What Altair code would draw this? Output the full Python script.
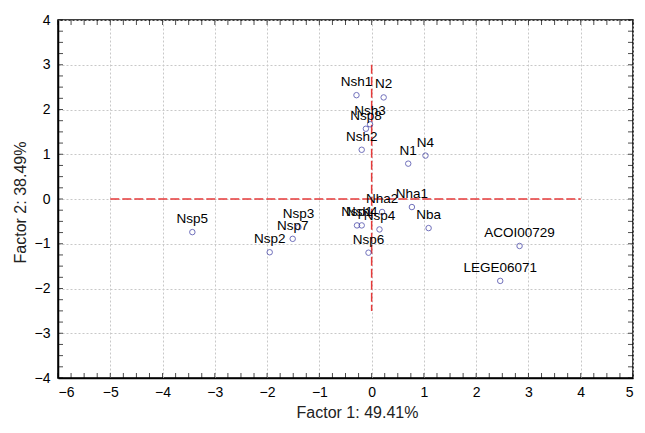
import altair as alt
import pandas as pd

# ---- data ----
labels = ["Nsh1", "N2", "Nsh3", "Nsp8", "Nsh2", "N1", "N4", "Nha1", "Nha2", "Nba",
          "Nsp4", "Nsp1", "Nsh4", "Nsp6", "Nsp5", "Nsp3", "Nsp7", "Nsp2",
          "ACOI00729", "LEGE06071"]
factor1 = [-0.29, 0.23, -0.03, -0.11, -0.19, 0.70, 1.03, 0.77, 0.20, 1.09,
           0.15, -0.28, -0.19, -0.06, -3.43, -1.40, -1.51, -1.95,
           2.83, 2.46]
factor2 = [2.32, 2.27, 1.67, 1.57, 1.10, 0.79, 0.97, -0.18, -0.29, -0.65,
           -0.68, -0.59, -0.59, -1.20, -0.74, -0.63, -0.89, -1.19,
           -1.05, -1.83]

x_ticks = [-6, -5, -4, -3, -2, -1, 0, 1, 2, 3, 4, 5]
y_ticks = [-4, -3, -2, -1, 0, 1, 2, 3, 4]
x_minor = [v / 4 for v in range(-24, 21)]
y_minor = [v / 4 for v in range(-16, 17)]

# reference lines (centre cross)
h_line = pd.DataFrame({"x": [-5], "x2": [4], "y": [0]})
v_line = pd.DataFrame({"x": [0], "y": [3], "y2": [-2.5]})

df = pd.DataFrame({"label": labels, "f1": factor1, "f2": factor2})

FONT = "Liberation Sans"
W, H = 575, 358
xs = alt.Scale(domain=[-6, 5], nice=False, zero=False)
ys = alt.Scale(domain=[-4, 4], nice=False, zero=False)

x_axis = alt.Axis(values=x_ticks, title="Factor 1: 49.41%", labelPadding=7, titlePadding=5,
                  titleX=299, titleAlign="center")
y_axis = alt.Axis(values=y_ticks, title="Factor 2: 38.49%", labelPadding=8, titlePadding=6,
                  titleY=182)

base = alt.Chart(df)

points = base.mark_point(shape="circle", filled=False, color="#3535a0", size=30, strokeWidth=1).encode(
    x=alt.X("f1:Q", scale=xs, axis=x_axis),
    y=alt.Y("f2:Q", scale=ys, axis=y_axis),
)

texts = base.mark_text(dy=-13, font=FONT, fontSize=13.5, color="black", align="center", baseline="middle").encode(
    x=alt.X("f1:Q", scale=xs),
    y=alt.Y("f2:Q", scale=ys),
    text="label:N",
)

red = "#e63a3a"
hl = alt.Chart(h_line).mark_rule(color=red, strokeWidth=1.5, strokeDash=[9, 3]).encode(
    x=alt.X("x:Q", scale=xs), x2="x2:Q", y=alt.Y("y:Q", scale=ys)
)
vl = alt.Chart(v_line).mark_rule(color=red, strokeWidth=1.5, strokeDash=[9, 3]).encode(
    x=alt.X("x:Q", scale=xs), y=alt.Y("y:Q", scale=ys), y2="y2:Q"
)

# inward minor ticks on all four sides
xt = pd.DataFrame({"x": x_minor})
yt = pd.DataFrame({"y": y_minor})
tick_bottom = alt.Chart(xt).mark_tick(orient="vertical", size=5, thickness=1, color="black", yOffset=-2.5).encode(
    x=alt.X("x:Q", scale=xs), y=alt.datum(-4, scale=ys)
)
tick_top = alt.Chart(xt).mark_tick(orient="vertical", size=5, thickness=1, color="black", yOffset=2.5).encode(
    x=alt.X("x:Q", scale=xs), y=alt.datum(4, scale=ys)
)
tick_left = alt.Chart(yt).mark_tick(orient="horizontal", size=5, thickness=1, color="black", xOffset=2.5).encode(
    y=alt.Y("y:Q", scale=ys), x=alt.datum(-6, scale=xs)
)
tick_right = alt.Chart(yt).mark_tick(orient="horizontal", size=5, thickness=1, color="black", xOffset=-2.5).encode(
    y=alt.Y("y:Q", scale=ys), x=alt.datum(5, scale=xs)
)

chart = alt.layer(
    hl, vl, points, texts, tick_bottom, tick_top, tick_left, tick_right
).properties(
    width=W, height=H,
    background="white",
    autosize=alt.AutoSizeParams(type="none"),
    padding={"left": 50, "top": 12, "right": 4, "bottom": 42},
).configure_view(
    stroke="black", strokeWidth=1.5
).configure_axis(
    domainColor="black", domainWidth=1.5, ticks=False,
    grid=True, gridColor="#c8c8c8", gridDash=[2, 2], gridWidth=1,
    labelFont=FONT, labelFontSize=14, labelColor="black",
    titleFont=FONT, titleFontSize=16, titleFontWeight="normal", titleColor="#222222",
)

chart.save("out.html", embed_options={"renderer": "svg", "actions": False})
